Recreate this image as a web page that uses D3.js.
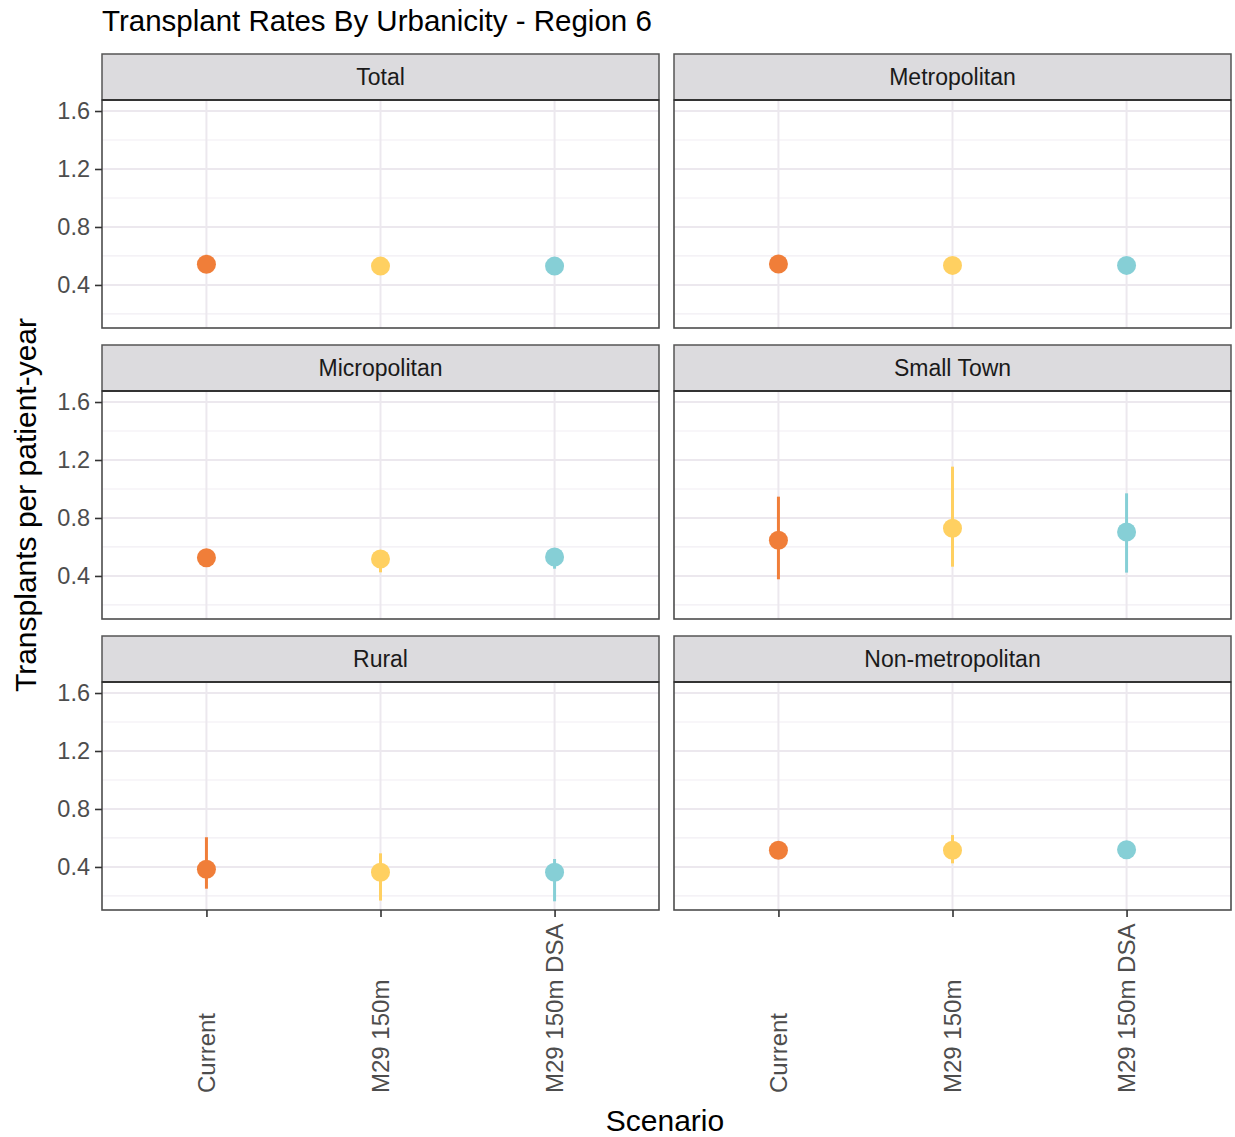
<!DOCTYPE html>
<html>
<head>
<meta charset="utf-8">
<script src="https://cdn.jsdelivr.net/npm/d3@7"></script>
<style>
  html, body { margin: 0; padding: 0; background: #ffffff; }
  svg { display: block; font-family: "Liberation Sans", Arial, sans-serif; }
</style>
</head>
<body>
<svg id="chart" width="1235" height="1137"></svg>
<script>
// ---- data ----
const panels = ["Total", "Metropolitan", "Micropolitan", "Small Town", "Rural", "Non-metropolitan"];
const scenarios = ["Current", "M29 150m", "M29 150m DSA"];
const scenarioColors = ["#F07E39", "#FFD061", "#86CFD6"];
const yTicks = [0.4, 0.8, 1.2, 1.6];
const yMinorTicks = [0.2, 0.6, 1.0, 1.4];
// estimate per panel, in scenario order
const rateEstimate = [
  [0.543, 0.530, 0.530],
  [0.545, 0.535, 0.535],
  [0.526, 0.517, 0.531],
  [0.646, 0.729, 0.703],
  [0.384, 0.363, 0.363],
  [0.515, 0.515, 0.519]
];
const rateLower = [
  [0.520, 0.510, 0.510],
  [0.525, 0.515, 0.515],
  [0.500, 0.425, 0.450],
  [0.377, 0.464, 0.423],
  [0.250, 0.168, 0.163],
  [0.495, 0.425, 0.500]
];
const rateUpper = [
  [0.565, 0.550, 0.550],
  [0.565, 0.555, 0.555],
  [0.550, 0.540, 0.555],
  [0.947, 1.154, 0.970],
  [0.605, 0.494, 0.455],
  [0.535, 0.620, 0.540]
];

// ---- layout ----
const svg = d3.select("#chart");
const colX = [102, 674];
const panelW = 557;
const rowTop = [54, 345, 636];
const stripH = 46;
const plotH = 228;

const x = d3.scalePoint().domain(scenarios).range([0, panelW]).padding(0.6);
const y = d3.scaleLinear().domain([0.103, 1.676]).range([plotH, 0]);
const color = d3.scaleOrdinal().domain(scenarios).range(scenarioColors);

// title
svg.append("text")
  .attr("x", 102).attr("y", 31)
  .attr("font-size", 29.5).attr("fill", "#000")
  .text("Transplant Rates By Urbanicity - Region 6");

panels.forEach((name, i) => {
  const col = i % 2, row = Math.floor(i / 2);
  const g = svg.append("g").attr("transform", `translate(${colX[col]},${rowTop[row]})`);
  // strip
  g.append("rect").attr("x", 0).attr("y", 0).attr("width", panelW).attr("height", stripH)
    .attr("fill", "#DCDBDE").attr("stroke", "#555555").attr("stroke-width", 1.5);
  g.append("text").attr("x", panelW / 2).attr("y", stripH / 2 + 8)
    .attr("text-anchor", "middle").attr("font-size", 23).attr("fill", "#1a1a1a").text(name);

  const p = g.append("g").attr("transform", `translate(0,${stripH})`);
  p.append("rect").attr("width", panelW).attr("height", plotH).attr("fill", "#fff");
  // minor grid
  p.selectAll(".minor").data(yMinorTicks).join("line")
    .attr("x1", 0).attr("x2", panelW)
    .attr("y1", d => y(d)).attr("y2", d => y(d))
    .attr("stroke", "#F1EEF3").attr("stroke-width", 1.2);
  // major grid
  p.selectAll(".major").data(yTicks).join("line")
    .attr("x1", 0).attr("x2", panelW)
    .attr("y1", d => y(d)).attr("y2", d => y(d))
    .attr("stroke", "#ECE8EE").attr("stroke-width", 2);
  p.selectAll(".vgrid").data(scenarios).join("line")
    .attr("x1", d => x(d)).attr("x2", d => x(d))
    .attr("y1", 0).attr("y2", plotH)
    .attr("stroke", "#ECE8EE").attr("stroke-width", 2);

  // error bars and points
  scenarios.forEach((s, j) => {
    p.append("line")
      .attr("x1", x(s)).attr("x2", x(s))
      .attr("y1", y(rateLower[i][j])).attr("y2", y(rateUpper[i][j]))
      .attr("stroke", color(s)).attr("stroke-width", 3);
    p.append("circle")
      .attr("cx", x(s)).attr("cy", y(rateEstimate[i][j])).attr("r", 9.5)
      .attr("fill", color(s));
  });

  // panel border
  p.append("rect").attr("width", panelW).attr("height", plotH)
    .attr("fill", "none").attr("stroke", "#4d4d4d").attr("stroke-width", 1.6);
  // strip bottom line (darker)
  g.append("line").attr("x1", 0).attr("x2", panelW).attr("y1", stripH).attr("y2", stripH)
    .attr("stroke", "#333333").attr("stroke-width", 2);

  // y axis on left column
  if (col === 0) {
    const ax = p.append("g").call(d3.axisLeft(y).tickValues(yTicks).tickSize(7).tickPadding(5).tickFormat(d3.format(".1f")));
    ax.select(".domain").remove();
    ax.selectAll(".tick line").attr("stroke", "#333").attr("stroke-width", 1.6);
    ax.selectAll(".tick text").attr("font-size", 23.5).attr("fill", "#4D4D4D")
      .attr("font-family", "Liberation Sans, Arial, sans-serif");
  }
  // x axis on bottom row
  if (row === 2) {
    const ax = p.append("g").attr("transform", `translate(0,${plotH})`)
      .call(d3.axisBottom(x).tickSize(7).tickPadding(5));
    ax.select(".domain").remove();
    ax.selectAll(".tick line").attr("stroke", "#333").attr("stroke-width", 1.6);
    ax.selectAll(".tick text")
      .attr("font-size", 24).attr("fill", "#4D4D4D")
      .attr("font-family", "Liberation Sans, Arial, sans-serif")
      .attr("transform", "rotate(-90)")
      .attr("text-anchor", "start")
      .attr("x", -183).attr("y", 0).attr("dy", "0.35em");
  }
});

// axis titles
svg.append("text")
  .attr("transform", "translate(36,505) rotate(-90)")
  .attr("text-anchor", "middle").attr("font-size", 30).attr("fill", "#000")
  .text("Transplants per patient-year");
svg.append("text")
  .attr("x", 665).attr("y", 1131)
  .attr("text-anchor", "middle").attr("font-size", 30).attr("fill", "#000")
  .text("Scenario");
</script>
</body>
</html>
